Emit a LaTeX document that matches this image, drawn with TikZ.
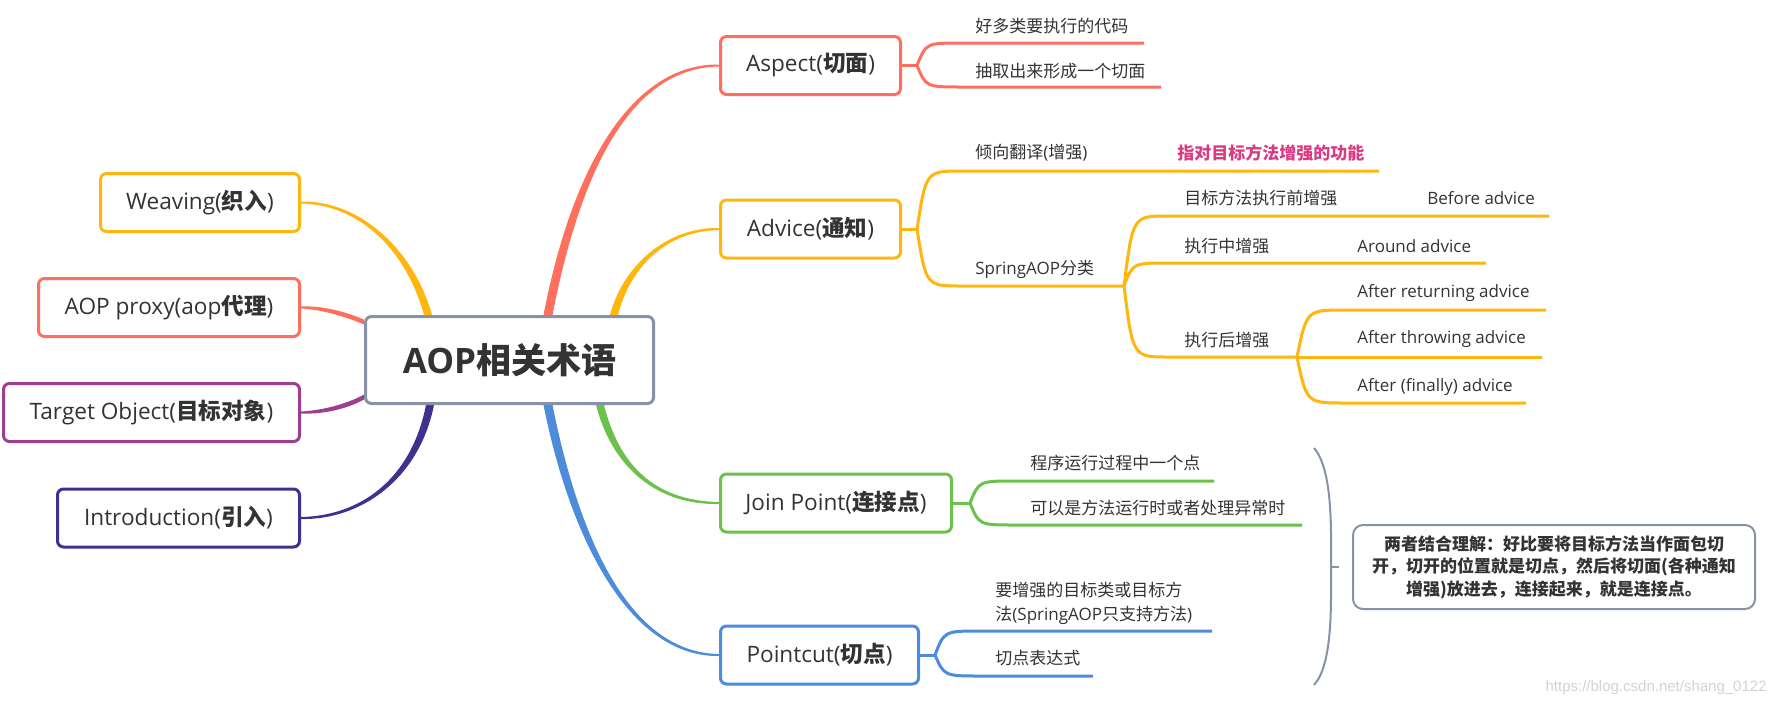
\documentclass[tikz,border=0pt]{standalone}
\usepackage{fontspec}
\setmainfont{Open Sans}
\newfontfamily\cjk{Noto Sans CJK SC}
\newfontfamily\markfont{Liberation Sans}
\newcommand\zh[1]{{\cjk #1}}
\newcommand\zhb[1]{{\cjk\bfseries #1}}
\usetikzlibrary{positioning,calc,backgrounds}

\definecolor{coral}{HTML}{FF6F5E}
\definecolor{amber}{HTML}{FFB60F}
\definecolor{leafgreen}{HTML}{6BC14B}
\definecolor{skyblue}{HTML}{4D8BDB}
\definecolor{plum}{HTML}{9C3F8E}
\definecolor{indigo}{HTML}{40308F}
\definecolor{slate}{HTML}{8792A6}
\definecolor{ink}{HTML}{333333}
\definecolor{rose}{HTML}{DA3A83}

\tikzset{
	topic/.style={draw=#1, line width=1.5pt, rounded corners=3pt, fill=white, text=ink, minimum height=29pt, inner sep=0pt, font=\fontsize{11.3}{13}\selectfont},
	leaf/.style={anchor=west, inner sep=0pt, text=ink, font=\fontsize{8.5}{12}\selectfont},
	twig/.style={draw=#1, line width=1.5pt}
}

\begin{document}
\begin{tikzpicture}[x=0.5pt,y=0.5pt]
\useasboundingbox (0,0) rectangle (1777,-707);

\node[topic=slate, minimum width=144pt, minimum height=43.5pt, font=\bfseries\fontsize{17.5}{20}\selectfont] (root) at (509.5,-360) {AOP\zhb{相关术语}};

\node[topic=coral, minimum width=90pt] (aspect) at (810.5,-65.5) {Aspect(\zhb{切面})};
\node[topic=amber, minimum width=90pt] (advice) at (810.5,-229) {Advice(\zhb{通知})};
\node[topic=leafgreen, minimum width=115.5pt] (join) at (836,-503) {Join Point(\zhb{连接点})};
\node[topic=skyblue, minimum width=99pt] (pointcut) at (819.5,-655) {Pointcut(\zhb{切点})};
\node[topic=amber, minimum width=99.5pt] (weaving) at (200,-202.5) {Weaving(\zhb{织入})};
\node[topic=coral, minimum width=130.5pt] (proxy) at (169,-307.5) {AOP proxy(aop\zhb{代理})};
\node[topic=plum, minimum width=148pt] (target) at (151.5,-412.5) {Target Object(\zhb{目标对象})};
\node[topic=indigo, minimum width=121pt] (intro) at (178.5,-518) {Introduction(\zhb{引入})};

% main branches
\coordinate (sAspect) at ($(root.north)+(38.5,0)$);
\coordinate (sAdvice) at ($(root.north)+(104.5,0)$);
\coordinate (sWeaving) at ($(root.north)+(-81.5,0)$);
\coordinate (sJoin) at ($(root.south)+(90.5,0)$);
\coordinate (sPointcut) at ($(root.south)+(38.5,0)$);
\coordinate (sIntro) at ($(root.south)+(-79.5,0)$);
\coordinate (sProxy) at ($(root.north west)+(0,-7)$);
\coordinate (sTarget) at ($(root.south west)+(0,8)$);

\begin{scope}[on background layer]
\foreach \col/\st/\ox/\oy/\ax/\ay/\bx/\by/\nd/\sd/\sg in {
	coral/sAspect/4.5/0/580/-150/640/-65.5/aspect/west/1,
	amber/sAdvice/4/0/626/-268/665/-229/advice/west/1,
	leafgreen/sJoin/4/0/614/-460/650/-503/join/west/-1,
	skyblue/sPointcut/4.5/0/575/-540/630/-655/pointcut/west/-1,
	amber/sWeaving/4/0/410/-250/360/-202.5/weaving/east/-1,
	indigo/sIntro/4/0/415/-480/360/-518/intro/east/1,
	coral/sProxy/0/2.5/350/-316/325/-307.5/proxy/east/-1,
	plum/sTarget/0/2.5/350/-405/325/-412.5/target/east/-1}
	\fill[\col] ($(\st)-(\ox,\oy)$) .. controls (\ax-\ox,\ay-\oy) and (\bx,{\by+(\sg)*2.2}) .. ($(\nd.\sd)+(0,\sg)$)
		-- ($(\nd.\sd)-(0,\sg)$) .. controls (\bx,{\by-(\sg)*2.2}) and (\ax+\ox,\ay+\oy) .. ($(\st)+(\ox,\oy)$) -- cycle;
\end{scope}

% sub branches
\draw[twig=coral] (aspect.east) -- (917,-65.5);
\draw[twig=amber] (advice.east) -- (917,-229);
\draw[twig=leafgreen] (join.east) -- (970,-503);
\draw[twig=skyblue] (pointcut.east) -- (935,-655);

\foreach \col/\fx/\fy/\tx/\ty/\ex in {
	coral/917/-65.5/962/-43/1144, coral/917/-65.5/962/-87/1161,
	amber/917/-229/962/-171/1379, amber/917/-229/962/-286/1124,
	amber/1124/-286/1168/-216/1549, amber/1124/-286/1168/-263/1486,
	amber/1124/-286/1168/-357/1297,
	amber/1297/-357/1345/-310/1546, amber/1297/-357/1345/-357/1542,
	amber/1297/-357/1345/-403/1526,
	leafgreen/970/-503/1015/-481/1214, leafgreen/970/-503/1015/-525/1302,
	skyblue/935/-655/981/-631/1212, skyblue/935/-655/981/-676/1093}
	\draw[twig=\col] (\fx,\fy) .. controls ({\fx+0.2*(\tx-\fx)},\ty) .. (\tx,\ty) -- (\ex,\ty);

\node[leaf] (a1) at (975,-26) {\zh{好多类要执行的代码}};
\node[leaf] (a2) at (975,-71) {\zh{抽取出来形成一个切面}};
\node[leaf] (b1) at (975,-153) {\zh{倾向翻译}(\zh{增强})};
\node[leaf, text=rose] (b1x) at (1177,-153) {\zhb{指对目标方法增强的功能}};
\node[leaf] (b2) at (975,-269) {SpringAOP\zh{分类}};
\node[leaf] (c1) at (1184,-198) {\zh{目标方法执行前增强}};
\node[leaf] (c1x) at (1427,-198) {Before advice};
\node[leaf] (c2) at (1184,-246) {\zh{执行中增强}};
\node[leaf] (c2x) at (1357,-246) {Around advice};
\node[leaf] (c3) at (1184,-340) {\zh{执行后增强}};
\node[leaf] (d1) at (1357,-293) {After returning advice};
\node[leaf] (d2) at (1357,-339) {After throwing advice};
\node[leaf] (d3) at (1357,-387) {After (finally) advice};
\node[leaf] (j1) at (1030,-463) {\zh{程序运行过程中一个点}};
\node[leaf] (j2) at (1030,-508) {\zh{可以是方法运行时或者处理异常时}};
\node[leaf, align=left] (p1) at (995,-603) {\zh{要增强的目标类或目标方}\\\zh{法}(SpringAOP\zh{只支持方法})};
\node[leaf] (p2) at (995,-658) {\zh{切点表达式}};

% brace and note
\draw[slate, line width=1pt] (1314,-448) .. controls (1333,-470) and (1331,-530) .. (1331,-567)
	.. controls (1331,-604) and (1333,-664) .. (1314,-685);
\coordinate (tip) at (1339,-567);
\draw[slate, line width=1pt] (1331,-567) -- (tip);
\node[draw=slate, line width=1pt, rounded corners=5pt, minimum width=201pt, minimum height=42pt, align=center, text=ink,
	font=\cjk\bfseries\fontsize{8.5}{11.25}\selectfont] (summary) at (1554,-567)
	{两者结合理解：好比要将目标方法当作面包切\\开，切开的位置就是切点，然后将切面(各种通知\\增强)放进去，连接起来，就是连接点。};

\node[anchor=east, inner sep=0pt, text=gray!35, font=\markfont\fontsize{7.5}{9}\selectfont] (mark) at (1767,-688) {https://blog.csdn.net/shang\_0122};
\end{tikzpicture}
\end{document}
